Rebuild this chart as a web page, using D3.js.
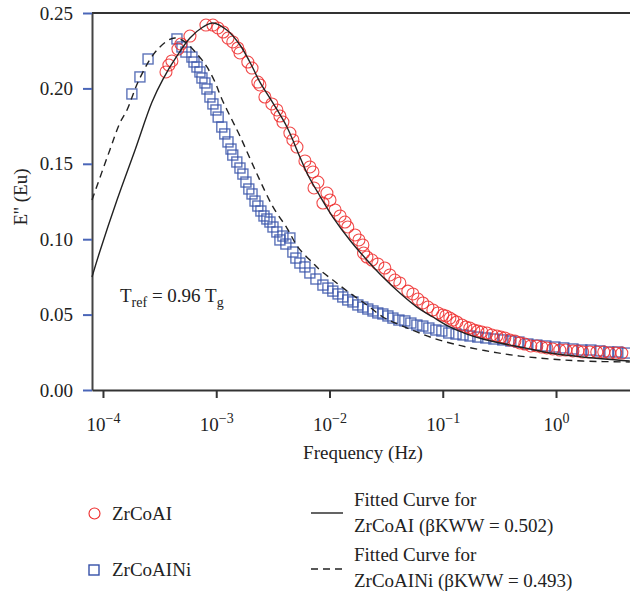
<!DOCTYPE html>
<html>
<head>
<meta charset="utf-8">
<script src="https://cdnjs.cloudflare.com/ajax/libs/d3/7.8.5/d3.min.js"></script>
<style>
body{margin:0;background:#fff;}
text{font-family:"Liberation Serif","DejaVu Serif",serif;fill:#222;}
</style>
</head>
<body>
<script>
// ZrCoAI measured loss modulus
var redFreq = [3.60e-4,3.82e-4,4.06e-4,4.59e-4,4.88e-4,5.86e-4,8.11e-4,9.35e-4,1.035e-3,1.15e-3,1.27e-3,1.40e-3,1.55e-3,1.62e-3,1.90e-3,2.07e-3,2.33e-3,2.43e-3,2.69e-3,3.10e-3,3.43e-3,3.65e-3,3.88e-3,4.47e-3,4.75e-3,5.16e-3,6.07e-3,6.71e-3,7.14e-3,7.30e-3,7.90e-3,8.75e-3,9.49e-3,1.01e-2,1.12e-2,1.24e-2,1.37e-2,1.45e-2,1.68e-2,1.82e-2,1.97e-2,2.00e-2,2.14e-2,2.37e-2,2.67e-2,3.08e-2,3.41e-2,3.78e-2,4.18e-2,4.92e-2,5.45e-2,6.03e-2,6.67e-2,7.39e-2,8.18e-2,9.05e-2,0.100,0.1065,0.1155,0.123,0.133,0.1475,0.160,0.1735,0.188,0.204,0.221,0.245,0.271,0.300,0.326,0.353,0.391,0.433,0.479,0.530,0.599,0.677,0.749,0.830,0.937,1.08,1.22,1.41,1.56,1.72,1.99,2.29,2.64,2.98,3.37,3.81];
var redE = [0.2109,0.2155,0.2182,0.2261,0.2294,0.2347,0.2420,0.2420,0.2401,0.2374,0.2334,0.2308,0.2268,0.2235,0.2175,0.2135,0.2042,0.2023,0.1943,0.1897,0.1857,0.1817,0.1777,0.1704,0.1658,0.1611,0.1519,0.1479,0.1446,0.1340,0.1379,0.1240,0.1306,0.1260,0.1194,0.1154,0.1114,0.1081,0.1028,0.0995,0.0962,0.0908,0.0882,0.0862,0.0836,0.0809,0.0763,0.0729,0.0710,0.0656,0.0637,0.0603,0.0577,0.0550,0.0531,0.0511,0.0497,0.0491,0.0477,0.0464,0.0451,0.0431,0.0418,0.0411,0.0398,0.0391,0.0385,0.0378,0.0365,0.0358,0.0351,0.0345,0.0332,0.0325,0.0312,0.0305,0.0292,0.0292,0.0285,0.0279,0.0272,0.0265,0.0265,0.0259,0.0259,0.0252,0.0252,0.0252,0.0252,0.0245,0.0245,0.0245];

// ZrCoAINi measured loss modulus
var blueFreq = [1.80e-4,2.12e-4,2.50e-4,4.50e-4,4.98e-4,5.40e-4,6.10e-4,6.36e-4,6.76e-4,7.18e-4,7.48e-4,7.95e-4,8.28e-4,8.80e-4,9.35e-4,9.94e-4,1.04e-3,1.12e-3,1.19e-3,1.27e-3,1.35e-3,1.40e-3,1.52e-3,1.62e-3,1.72e-3,1.83e-3,1.94e-3,2.07e-3,2.20e-3,2.33e-3,2.48e-3,2.64e-3,2.80e-3,2.98e-3,3.17e-3,3.43e-3,3.65e-3,3.88e-3,4.12e-3,4.47e-3,4.75e-3,5.05e-3,5.48e-3,6.07e-3,6.71e-3,7.59e-3,8.75e-3,9.68e-3,1.07e-2,1.19e-2,1.31e-2,1.45e-2,1.61e-2,1.78e-2,1.97e-2,2.18e-2,2.42e-2,2.67e-2,2.96e-2,3.28e-2,3.63e-2,4.10e-2,4.63e-2,5.23e-2,5.91e-2,6.67e-2,7.54e-2,8.69e-2,9.82e-2,0.113,0.131,0.151,0.174,0.204,0.240,0.283,0.339,0.399,0.470,0.564,0.677,0.813,0.976,1.17,1.41,1.69,2.03,2.44,2.92,3.51,4.13];
var blueE = [0.1963,0.2076,0.2195,0.2328,0.2275,0.2241,0.2208,0.2175,0.2142,0.2109,0.2069,0.2036,0.1996,0.1943,0.1897,0.1857,0.1810,0.1744,0.1698,0.1645,0.1598,0.1558,0.1512,0.1472,0.1432,0.1379,0.1333,0.1300,0.1253,0.1220,0.1187,0.1154,0.1134,0.1114,0.1081,0.1048,0.0995,0.1021,0.0968,0.1008,0.0915,0.0875,0.0842,0.0816,0.0776,0.0736,0.0696,0.0676,0.0656,0.0637,0.0617,0.0597,0.0584,0.0564,0.0550,0.0537,0.0524,0.0511,0.0504,0.0491,0.0477,0.0464,0.0458,0.0444,0.0431,0.0424,0.0411,0.0398,0.0391,0.0378,0.0371,0.0365,0.0358,0.0351,0.0345,0.0338,0.0332,0.0325,0.0318,0.0305,0.0298,0.0292,0.0285,0.0279,0.0272,0.0265,0.0265,0.0259,0.0252,0.0252,0.0245];

// KWW fitted curves
var fitAFreq = [8.00e-5,9.41e-5,1.33e-4,1.92e-4,2.71e-4,3.39e-4,4.50e-4,5.86e-4,7.63e-4,9.35e-4,1.24e-3,1.62e-3,1.98e-3,2.43e-3,3.17e-3,4.21e-3,5.48e-3,6.45e-3,8.23e-3,1.07e-2,1.51e-2,2.14e-2,2.96e-2,4.18e-2,5.91e-2,8.18e-2,0.1155,0.1632,0.2259,0.3192,0.530,0.882,1.72,4.48];
var fitAE = [0.0749,0.0922,0.1260,0.1592,0.1910,0.2062,0.2215,0.2334,0.2407,0.2434,0.2387,0.2288,0.2175,0.2042,0.1903,0.1744,0.1545,0.1426,0.1286,0.1147,0.0995,0.0862,0.0749,0.0643,0.0550,0.0484,0.0418,0.0371,0.0338,0.0312,0.0279,0.0245,0.0219,0.0192];
var fitBFreq = [8.00e-5,1.15e-4,1.41e-4,1.63e-4,2.04e-4,2.76e-4,3.67e-4,4.32e-4,5.29e-4,6.90e-4,8.28e-4,9.74e-4,1.12e-3,1.35e-3,1.62e-3,2.29e-3,3.17e-3,4.21e-3,5.26e-3,7.14e-3,8.23e-3,1.07e-2,1.51e-2,2.14e-2,2.96e-2,4.18e-2,5.91e-2,8.18e-2,0.1155,0.1632,0.2769,0.479,0.882,1.72,4.48];
var fitBE = [0.1260,0.1592,0.1771,0.1857,0.2042,0.2221,0.2314,0.2334,0.2308,0.2221,0.2142,0.2042,0.1930,0.1804,0.1684,0.1432,0.1214,0.1074,0.0948,0.0842,0.0796,0.0729,0.0643,0.0564,0.0484,0.0431,0.0385,0.0345,0.0312,0.0285,0.0252,0.0225,0.0206,0.0192,0.0186];

var xTicks = [1e-4,1e-3,1e-2,1e-1,1];
var xExp = ["\u22124","\u22123","\u22122","\u22121","0"];
var yTicks = [0,0.05,0.10,0.15,0.20,0.25];

const svg_width = 630, svg_height = 594;
const plot_left = 92, plot_right = 630, plot_top = 13, plot_bottom = 390;

var svg = d3.select("body").append("svg")
	.attr("width", svg_width)
	.attr("height", svg_height);

var x = d3.scaleLog().domain([8e-5, 4.5]).range([plot_left, plot_right]);
var y = d3.scaleLinear().domain([0, 0.25]).range([plot_bottom, plot_top]);

// frame: top line
svg.append("line")
	.attr("x1", plot_left).attr("x2", plot_right)
	.attr("y1", plot_top).attr("y2", plot_top)
	.attr("stroke", "#333").attr("stroke-width", 2);

// y axis
var yAxis = svg.append("g")
	.attr("transform", "translate(" + plot_left + ",0)")
	.call(d3.axisLeft(y).tickValues(yTicks).tickFormat(d3.format(".2f")).tickSize(9).tickSizeOuter(0).tickPadding(10));
yAxis.select(".domain").attr("stroke", "#444").attr("stroke-width", 2);
yAxis.selectAll(".tick line").attr("stroke", "#4a66b8").attr("stroke-width", 2);
yAxis.selectAll(".tick text").attr("font-size", 19).attr("font-family", "Liberation Serif").attr("fill", "#222");

// x axis
var xAxis = svg.append("g")
	.attr("transform", "translate(0," + plot_bottom + ")")
	.call(d3.axisBottom(x).tickValues(xTicks).tickFormat("").tickSize(8).tickSizeOuter(0));
xAxis.select(".domain").attr("stroke", "#333").attr("stroke-width", 2);
xAxis.selectAll(".tick line").attr("stroke", "#333").attr("stroke-width", 2);
xAxis.selectAll(".tick").each(function(d, i){
	var t = d3.select(this).append("text")
		.attr("y", 41)
		.attr("text-anchor", "middle")
		.attr("font-size", 19)
		.attr("font-family", "Liberation Serif")
		.attr("fill", "#222");
	t.append("tspan").text("10");
	t.append("tspan").attr("dy", -8).attr("font-size", 14).text(xExp[i]);
});

svg.append("text")
	.attr("x", 363).attr("y", 459)
	.attr("text-anchor", "middle")
	.attr("font-size", 19)
	.text("Frequency (Hz)");

svg.append("text")
	.attr("transform", "translate(27,197) rotate(-90)")
	.attr("text-anchor", "middle")
	.attr("font-size", 19)
	.text("E'' (Eu)");

// annotation
var ann = svg.append("text").attr("x", 120).attr("y", 302).attr("font-size", 19);
ann.append("tspan").text("T");
ann.append("tspan").attr("dy", 5).attr("font-size", 14).text("ref");
ann.append("tspan").attr("dy", -5).text(" = 0.96 T");
ann.append("tspan").attr("dy", 5).attr("font-size", 14).text("g");

var blue = blueFreq.map(function(f, i){ return {f: f, e: blueE[i]}; });
var red = redFreq.map(function(f, i){ return {f: f, e: redE[i]}; });
var fitA = fitAFreq.map(function(f, i){ return {f: f, e: fitAE[i]}; });
var fitB = fitBFreq.map(function(f, i){ return {f: f, e: fitBE[i]}; });

const sq = 10;
svg.append("g").selectAll("rect")
	.data(blue).enter().append("rect")
	.attr("x", function(d){ return x(d.f) - sq/2; })
	.attr("y", function(d){ return y(d.e) - sq/2; })
	.attr("width", sq).attr("height", sq)
	.attr("fill", "none")
	.attr("stroke", "#3550a8")
	.attr("stroke-opacity", 0.8)
	.attr("stroke-width", 1.4);

svg.append("g").selectAll("circle")
	.data(red).enter().append("circle")
	.attr("cx", function(d){ return x(d.f); })
	.attr("cy", function(d){ return y(d.e); })
	.attr("r", 6)
	.attr("fill", "none")
	.attr("stroke", "#ee2a2a")
	.attr("stroke-opacity", 0.85)
	.attr("stroke-width", 1.1);

var line = d3.line()
	.x(function(d){ return x(d.f); })
	.y(function(d){ return y(d.e); })
	.curve(d3.curveCatmullRom.alpha(0.5));

svg.append("path")
	.attr("d", line(fitA))
	.attr("fill", "none")
	.attr("stroke", "#222")
	.attr("stroke-width", 1.4);

svg.append("path")
	.attr("d", line(fitB))
	.attr("fill", "none")
	.attr("stroke", "#222")
	.attr("stroke-width", 1.4)
	.attr("stroke-dasharray", "7,5");

// legend
var legend = svg.append("g");
legend.append("circle").attr("cx", 94.5).attr("cy", 513.5).attr("r", 5.5)
	.attr("fill", "none").attr("stroke", "#ee2a2a").attr("stroke-width", 1.1);
legend.append("text").attr("x", 112).attr("y", 520).attr("font-size", 19).text("ZrCoAI");
legend.append("rect").attr("x", 89).attr("y", 565).attr("width", 10).attr("height", 10)
	.attr("fill", "none").attr("stroke", "#3550a8").attr("stroke-width", 1.4);
legend.append("text").attr("x", 112).attr("y", 576).attr("font-size", 19).text("ZrCoAINi");

legend.append("line").attr("x1", 311).attr("x2", 343).attr("y1", 513).attr("y2", 513)
	.attr("stroke", "#222").attr("stroke-width", 1.4);
legend.append("line").attr("x1", 311).attr("x2", 343).attr("y1", 569).attr("y2", 569)
	.attr("stroke", "#222").attr("stroke-width", 1.4).attr("stroke-dasharray", "7,5");
legend.append("text").attr("x", 354).attr("y", 506).attr("font-size", 19).text("Fitted Curve for");
legend.append("text").attr("x", 354).attr("y", 532).attr("font-size", 19).text("ZrCoAI (\u03b2KWW = 0.502)");
legend.append("text").attr("x", 354).attr("y", 561).attr("font-size", 19).text("Fitted Curve for");
legend.append("text").attr("x", 354).attr("y", 587).attr("font-size", 19).text("ZrCoAINi (\u03b2KWW = 0.493)");
</script>
</body>
</html>
